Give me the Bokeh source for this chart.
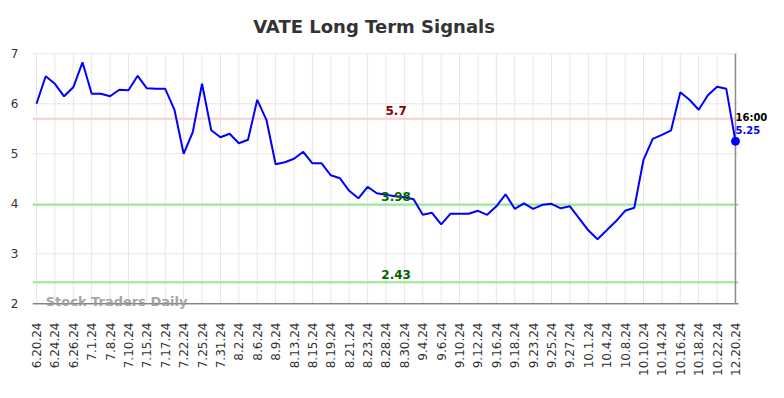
import math
from bokeh.plotting import figure
from bokeh.models import Range1d, FixedTicker, Label
from bokeh.embed import file_html
from bokeh.resources import INLINE

tick_labels = ["6.20.24", "6.24.24", "6.26.24", "7.1.24", "7.8.24", "7.10.24", "7.15.24",
               "7.17.24", "7.22.24", "7.25.24", "7.31.24", "8.2.24", "8.6.24", "8.9.24",
               "8.13.24", "8.15.24", "8.19.24", "8.21.24", "8.23.24", "8.28.24", "8.30.24",
               "9.4.24", "9.6.24", "9.10.24", "9.12.24", "9.16.24", "9.18.24", "9.23.24",
               "9.25.24", "9.27.24", "10.1.24", "10.4.24", "10.8.24", "10.10.24", "10.14.24",
               "10.16.24", "10.18.24", "10.22.24", "12.20.24"]

values = [6.00, 6.55, 6.40, 6.15, 6.33, 6.83, 6.20, 6.20, 6.15, 6.28,
          6.27, 6.56, 6.31, 6.30, 6.30, 5.88, 5.00, 5.44, 6.40, 5.47,
          5.33, 5.40, 5.21, 5.28, 6.08, 5.68, 4.79, 4.83, 4.90, 5.04,
          4.81, 4.81, 4.57, 4.51, 4.26, 4.11, 4.34, 4.21, 4.18, 4.15,
          4.13, 4.09, 3.78, 3.82, 3.59, 3.80, 3.80, 3.80, 3.86, 3.78,
          3.95, 4.19, 3.90, 4.01, 3.90, 3.98, 4.00, 3.91, 3.95, 3.71,
          3.47, 3.29, 3.47, 3.65, 3.86, 3.92, 4.88, 5.30, 5.38, 5.47,
          6.23, 6.08, 5.88, 6.17, 6.34, 6.30, 5.25]

y_ticks = [2, 3, 4, 5, 6, 7]
resistance = 5.7
supports = [3.98, 2.43]
last_time = "16:00"
title_text = "VATE Long Term Signals"
watermark = "Stock Traders Daily"

FONT = "DejaVu Sans"
xs = list(range(len(values)))
n = len(values) - 1
X0, XR = -0.435, n + 0.33       # plot-area extent (data units)
Y0, Y1 = y_ticks[0], y_ticks[-1]
PX = 0.02                       # one pixel in y data units

# the frame covers the whole canvas right/top so that the outside texts are not clipped
p = figure(width=784, height=398, output_backend="svg", toolbar_location=None,
           x_range=Range1d(X0, 81.33), y_range=Range1d(1.826, 8.066),
           min_border_left=32, min_border_right=0, min_border_top=0, min_border_bottom=86)
p.outline_line_color = None
p.background_fill_color = "white"
p.border_fill_color = "white"
p.xgrid.grid_line_color = None
p.ygrid.grid_line_color = None

tick_pos = xs[::2]
p.xaxis.ticker = FixedTicker(ticks=tick_pos)
p.xaxis.major_label_overrides = {i: lab for i, lab in zip(tick_pos, tick_labels)}
p.xaxis.major_label_orientation = math.pi / 2
p.xaxis.major_label_text_font = FONT
p.xaxis.major_label_text_font_size = "12px"
p.xaxis.major_label_text_color = "#333333"
p.xaxis.major_tick_line_color = None
p.xaxis.minor_tick_line_color = None
p.xaxis.major_tick_out = 0
p.xaxis.major_tick_in = 0
p.xaxis.major_label_standoff = 10
p.xaxis.axis_line_color = None

p.yaxis.ticker = FixedTicker(ticks=y_ticks)
p.yaxis.major_label_text_font = FONT
p.yaxis.major_label_text_font_size = "12px"
p.yaxis.major_label_text_color = "#333333"
p.yaxis.axis_line_color = None
p.yaxis.major_tick_line_color = None
p.yaxis.minor_tick_line_color = None
p.yaxis.major_tick_out = 0
p.yaxis.major_tick_in = 0
p.yaxis.major_label_standoff = 14

# grid
p.segment(x0=tick_pos, y0=[Y0] * len(tick_pos), x1=tick_pos, y1=[Y1] * len(tick_pos),
          line_color="#e6e6e6", line_width=1)
p.segment(x0=[X0] * len(y_ticks), y0=y_ticks, x1=[XR] * len(y_ticks), y1=y_ticks,
          line_color="#e6e6e6", line_width=1)

# level lines
p.segment(x0=[X0], y0=[resistance], x1=[XR], y1=[resistance], line_color="#ffcccc", line_width=2)
p.segment(x0=[X0] * len(supports), y0=supports, x1=[XR] * len(supports), y1=supports,
          line_color="#90ee90", line_width=2)

# axis line and right marker line
p.segment(x0=[X0], y0=[Y0], x1=[XR], y1=[Y0], line_color="#555555", line_width=1)
p.segment(x0=[n], y0=[Y0], x1=[n], y1=[Y1], line_color="#8c8c8c", line_width=1.5)

p.line(xs, values, line_color="#0000ff", line_width=2)
p.scatter([xs[-1]], [values[-1]], size=8, color="#0000ff")

lab_x = 39.1
p.add_layout(Label(x=lab_x, y=resistance + 8 * PX, text=f"{resistance:g}", text_align="center",
                   text_baseline="alphabetic", text_font=FONT, text_font_size="12px",
                   text_font_style="bold", text_color="#8b0000"))
for s in supports:
    p.add_layout(Label(x=lab_x, y=s + 8 * PX, text=f"{s:g}", text_align="center",
                       text_baseline="alphabetic", text_font=FONT, text_font_size="12px",
                       text_font_style="bold", text_color="#006400"))

p.add_layout(Label(x=n, y=5.646 + 4.5 * PX, text=last_time, text_align="left",
                   text_baseline="alphabetic", text_font=FONT, text_font_size="10px",
                   text_font_style="bold", text_color="#000000"))
p.add_layout(Label(x=n, y=5.386 + 4.5 * PX, text=f"{values[-1]:.2f}", text_align="left",
                   text_baseline="alphabetic", text_font=FONT, text_font_size="10px",
                   text_font_style="bold", text_color="#0000ff"))

p.add_layout(Label(x=1.0, y=1.946 + 5 * PX, text=watermark, text_align="left",
                   text_baseline="alphabetic", text_font=FONT, text_font_size="13px",
                   text_font_style="bold", text_color="#999999", text_alpha=0.9))

p.add_layout(Label(x=36.7, y=7.456 + 5 * PX, text=title_text, text_align="center",
                   text_baseline="alphabetic", text_font=FONT, text_font_size="18px",
                   text_font_style="bold", text_color="#333333"))

open("out.html", "w").write(file_html(p, INLINE))
